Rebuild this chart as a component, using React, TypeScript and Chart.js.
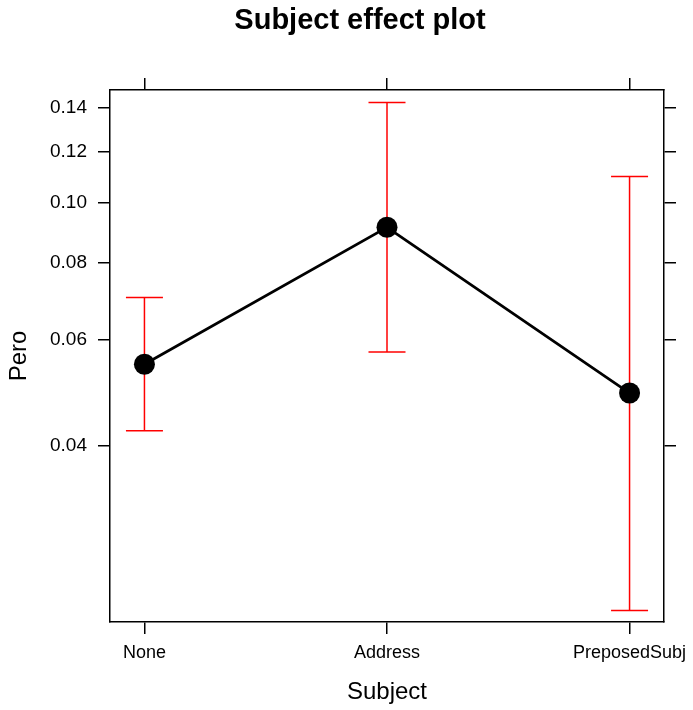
import React, { useEffect, useRef } from "react";
import { Chart, registerables } from "chart.js";

Chart.register(...registerables);

// ---- data ----
const TITLE = "Subject effect plot";
const X_TITLE = "Subject";
const Y_TITLE = "Pero";
const categories = ["None", "Address", "PreposedSubj"];
const fitValues = [0.0547, 0.0913, 0.049];
const lowerValues = [0.0424, 0.0573, 0.021];
const upperValues = [0.0704, 0.1424, 0.1097];
const yTickValues = [0.04, 0.06, 0.08, 0.1, 0.12, 0.14];
const yTickLabels = ["0.04", "0.06", "0.08", "0.10", "0.12", "0.14"];
const yLimits = [0.02007, 0.1487];

// ---- style ----
const FONT = "'Liberation Sans', Arial, Helvetica, sans-serif";
const BLACK = "#000000";
const RED = "#ff0000";
const X_PAD = 0.142;

const logit = (p: number) => Math.log(p / (1 - p));

const titlePlugin = {
  id: "mainTitle",
  afterDraw(chart: any) {
    const ctx = chart.ctx;
    ctx.save();
    ctx.font = `bold 29px ${FONT}`;
    ctx.fillStyle = BLACK;
    ctx.textAlign = "center";
    ctx.textBaseline = "alphabetic";
    ctx.fillText(TITLE, 360, 29);
    ctx.restore();
  },
};

export default function App() {
  const ref = useRef<HTMLCanvasElement | null>(null);

  useEffect(() => {
    if (!ref.current) return;
    const xTickFont = { family: FONT, size: 18 };
    const yTickFont = { family: FONT, size: 19 };
    const axisTitleFont = { family: FONT, size: 24 };
    const gridOpts = {
      drawOnChartArea: false,
      drawTicks: true,
      tickLength: 12,
      color: BLACK,
      lineWidth: 1.5,
    };
    const borderOpts = { display: true, color: BLACK, width: 1.5 };
    const xMin = 1 - X_PAD;
    const xMax = categories.length + X_PAD;
    const yMin = logit(yLimits[0]);
    const yMax = logit(yLimits[1]);
    const xTicks = (s: any) => {
      s.ticks = categories.map((_, i) => ({ value: i + 1 }));
    };
    const yTicks = (s: any) => {
      s.ticks = yTickValues.map((p) => ({ value: logit(p) }));
    };
    const fitH = (h: number) => (s: any) => {
      s.height = h;
      s.paddingLeft = 0;
      s.paddingRight = 0;
      s.paddingTop = 0;
      s.paddingBottom = 0;
    };
    const fitW = (w: number) => (s: any) => {
      s.width = w;
      s.paddingLeft = 0;
      s.paddingRight = 0;
      s.paddingTop = 0;
      s.paddingBottom = 0;
    };

    const fitData = fitValues.map((p, i) => ({ x: i + 1, y: logit(p) }));
    const ciSets = categories.map((c, i) => ({
      label: c + " CI",
      data: [
        { x: i + 1, y: logit(lowerValues[i]) },
        { x: i + 1, y: logit(upperValues[i]) },
      ],
      borderColor: RED,
      borderWidth: 1.5,
      pointStyle: "line",
      pointRadius: 18.5,
      pointBorderColor: RED,
      pointBackgroundColor: RED,
      pointBorderWidth: 1.5,
      fill: false,
      tension: 0,
      order: 1,
      xAxisID: "x",
      yAxisID: "y",
    }));

    const chart = new Chart(ref.current, {
      type: "line",
      data: {
        datasets: [
          {
            label: "fit",
            data: fitData,
            borderColor: BLACK,
            borderWidth: 2.75,
            pointRadius: 10.5,
            pointBackgroundColor: BLACK,
            pointBorderColor: BLACK,
            pointBorderWidth: 0,
            fill: false,
            tension: 0,
            order: 0,
            xAxisID: "x",
            yAxisID: "y",
          },
          ...ciSets,
        ] as any,
      },
      options: {
        animation: false,
        responsive: false,
        devicePixelRatio: 1,
        events: [],
        layout: { padding: 0 },
        plugins: {
          legend: { display: false },
          tooltip: { enabled: false },
          title: { display: false },
        },
        scales: {
          x: {
            type: "linear",
            position: "bottom",
            min: xMin,
            max: xMax,
            afterBuildTicks: xTicks,
            afterFit: fitH(88),
            ticks: {
              callback: (v: any) => categories[Math.round(Number(v)) - 1] ?? "",
              font: xTickFont,
              color: BLACK,
              padding: 8,
              autoSkip: false,
              maxRotation: 0,
              minRotation: 0,
            },
            grid: gridOpts,
            border: borderOpts,
            title: {
              display: true,
              text: X_TITLE,
              font: axisTitleFont,
              color: BLACK,
              padding: { top: 0, bottom: 3 },
            },
          },
          xTop: {
            type: "linear",
            position: "top",
            min: xMin,
            max: xMax,
            afterBuildTicks: xTicks,
            afterFit: fitH(90),
            ticks: { display: false },
            grid: gridOpts,
            border: borderOpts,
          },
          y: {
            type: "linear",
            position: "left",
            min: yMin,
            max: yMax,
            afterBuildTicks: yTicks,
            afterFit: fitW(110),
            ticks: {
              callback: (_v: any, i: number) => yTickLabels[i],
              font: yTickFont,
              color: BLACK,
              padding: 11,
              autoSkip: false,
            },
            grid: gridOpts,
            border: borderOpts,
            title: {
              display: true,
              text: Y_TITLE,
              font: axisTitleFont,
              color: BLACK,
              padding: { top: 5, bottom: 0 },
            },
          },
          yRight: {
            type: "linear",
            position: "right",
            min: yMin,
            max: yMax,
            afterBuildTicks: yTicks,
            afterFit: fitW(29),
            ticks: { display: false },
            grid: gridOpts,
            border: borderOpts,
          },
        },
      } as any,
      plugins: [titlePlugin],
    });
    return () => chart.destroy();
  }, []);

  return (
    <div style={{ position: "absolute", left: 0, top: 0, width: 693, height: 710, background: "#ffffff" }}>
      <canvas ref={ref} width={693} height={710} style={{ display: "block", width: 693, height: 710 }} />
    </div>
  );
}
